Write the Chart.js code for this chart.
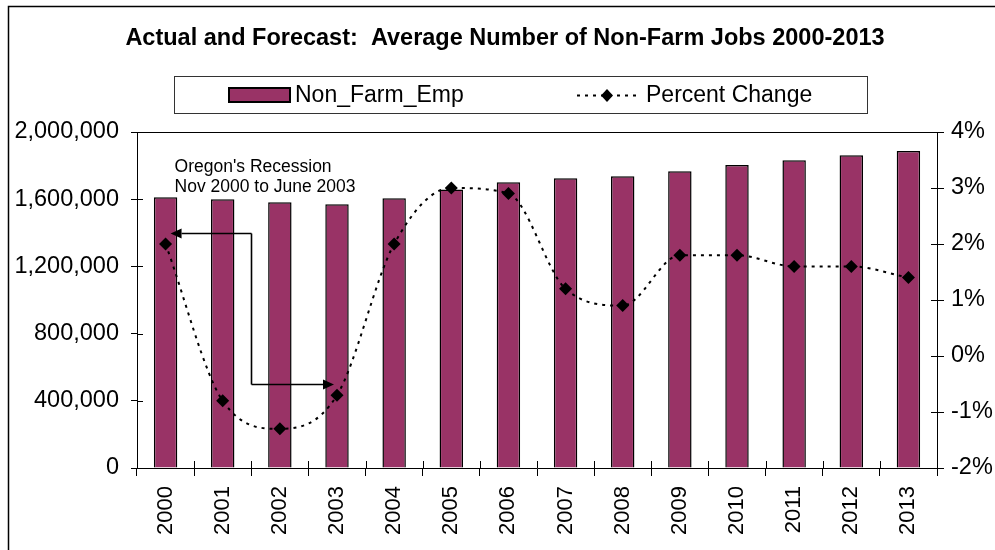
<!DOCTYPE html>
<html>
<head>
<meta charset="utf-8">
<script src="https://cdn.jsdelivr.net/npm/chart.js@4.4.1/dist/chart.umd.min.js"></script>
<style>
  html, body { margin: 0; padding: 0; background: #fff; }
  #wrap { width: 995px; height: 550px; }
</style>
</head>
<body>
<div id="wrap"><canvas id="jobsChart" width="995" height="550"></canvas></div>
<script>
// Данные графика
const years = ["2000", "2001", "2002", "2003", "2004", "2005", "2006", "2007", "2008", "2009", "2010", "2011", "2012", "2013"];
const nonFarmEmp = [1612000, 1600000, 1582000, 1570000, 1606000, 1658000, 1701000, 1724000, 1737000, 1767000, 1803000, 1832000, 1862000, 1887000];
const percentChange = [2.0, -0.8, -1.3, -0.7, 2.0, 3.0, 2.9, 1.2, 0.9, 1.8, 1.8, 1.6, 1.6, 1.4];
const leftTicks = [0, 400000, 800000, 1200000, 1600000, 2000000];
const rightTicks = [-2, -1, 0, 1, 2, 3, 4];

const chartTitle = "Actual and Forecast:  Average Number of Non-Farm Jobs 2000-2013";
const noteLines = ["Oregon's Recession", "Nov 2000 to June 2003"];

const FONT = "Arial, 'Liberation Sans', sans-serif";
const BAR_COLOR = "#993366";

// Стрелка с заполненным наконечником
function arrow(ctx, x1, y1, x2, y2) {
  const ang = Math.atan2(y2 - y1, x2 - x1);
  const len = 11, half = 5;
  ctx.beginPath();
  ctx.moveTo(x1, y1);
  ctx.lineTo(x2 - Math.cos(ang) * len, y2 - Math.sin(ang) * len);
  ctx.stroke();
  ctx.beginPath();
  ctx.moveTo(x2, y2);
  ctx.lineTo(x2 - Math.cos(ang) * len - Math.sin(ang) * half, y2 - Math.sin(ang) * len + Math.cos(ang) * half);
  ctx.lineTo(x2 - Math.cos(ang) * len + Math.sin(ang) * half, y2 - Math.sin(ang) * len - Math.cos(ang) * half);
  ctx.closePath();
  ctx.fill();
}

// Рамка, заголовок, легенда, внутренние засечки и аннотация рецессии
const decorations = {
  id: "decorations",
  afterDatasetsDraw(chart) {
    const { ctx, chartArea: a, scales } = chart;
    const x = scales.x, y = scales.y, y1 = scales.y1;
    ctx.save();
    ctx.strokeStyle = "#000";
    ctx.fillStyle = "#000";

    // внешняя рамка
    ctx.lineWidth = 1.5;
    ctx.strokeRect(8.5, 6.5, 1000, 600);

    // верхняя граница области построения
    ctx.lineWidth = 1;
    ctx.beginPath();
    ctx.moveTo(a.left, a.top + 0.5);
    ctx.lineTo(a.right, a.top + 0.5);
    ctx.stroke();

    // засечки внутрь
    ctx.beginPath();
    y.ticks.forEach((t, i) => {
      const py = Math.round(y.getPixelForTick(i)) + 0.5;
      ctx.moveTo(a.left, py); ctx.lineTo(a.left + 6, py);
    });
    y1.ticks.forEach((t, i) => {
      const py = Math.round(y1.getPixelForTick(i)) + 0.5;
      ctx.moveTo(a.right - 6, py); ctx.lineTo(a.right, py);
    });
    for (let i = 1; i < years.length; i++) {
      const px = Math.round((x.getPixelForValue(i - 1) + x.getPixelForValue(i)) / 2) + 0.5;
      ctx.moveTo(px, a.bottom); ctx.lineTo(px, a.bottom - 7);
    }
    ctx.stroke();

    // заголовок
    ctx.font = "bold 23.5px " + FONT;
    ctx.textAlign = "center";
    ctx.textBaseline = "alphabetic";
    ctx.fillText(chartTitle, 505, 45);

    // легенда
    const barDs = chart.data.datasets.find((d) => d.type === "bar");
    const lineDs = chart.data.datasets.find((d) => d.type === "line");
    ctx.lineWidth = 1;
    ctx.strokeStyle = "#333";
    ctx.strokeRect(174.5, 76.5, 693, 37);
    ctx.strokeStyle = "#000";
    ctx.fillStyle = BAR_COLOR;
    ctx.fillRect(229, 88, 61, 14);
    ctx.lineWidth = 2;
    ctx.strokeRect(229, 88, 61, 14);
    ctx.fillStyle = "#000";
    ctx.font = "23px " + FONT;
    ctx.textAlign = "left";
    ctx.textBaseline = "middle";
    ctx.fillText(barDs.label, 295, 96);
    ctx.setLineDash([3, 5]);
    ctx.beginPath();
    ctx.moveTo(577, 95.5); ctx.lineTo(640, 95.5);
    ctx.stroke();
    ctx.setLineDash([]);
    ctx.beginPath();
    ctx.moveTo(607, 89); ctx.lineTo(613, 95.5); ctx.lineTo(607, 102); ctx.lineTo(601, 95.5);
    ctx.closePath();
    ctx.fill();
    ctx.fillText(lineDs.label, 646, 96);

    // аннотация рецессии
    ctx.font = "17.5px " + FONT;
    ctx.textBaseline = "alphabetic";
    const tx = x.getPixelForValue(0) + 9;
    const ty = y1.getPixelForValue(3.28);
    noteLines.forEach((s, i) => ctx.fillText(s, tx, ty + i * 20));

    const midX = Math.round((x.getPixelForValue(1) + x.getPixelForValue(2)) / 2) + 0.5;
    const upY = Math.round(y1.getPixelForValue(2.2)) + 0.5;
    const lowY = Math.round(y1.getPixelForValue(-0.5)) + 0.5;
    ctx.lineWidth = 1.6;
    ctx.beginPath();
    ctx.moveTo(midX, upY); ctx.lineTo(midX, lowY);
    ctx.stroke();
    arrow(ctx, midX, upY, x.getPixelForValue(0) + 5, upY);
    arrow(ctx, midX, lowY, x.getPixelForValue(3) - 3, lowY);

    ctx.restore();
  },
};

new Chart(document.getElementById("jobsChart"), {
  data: {
    labels: years,
    datasets: [
      {
        type: "line",
        label: "Percent Change",
        data: percentChange,
        yAxisID: "y1",
        borderColor: "#000",
        borderWidth: 2,
        borderDash: [3, 5],
        cubicInterpolationMode: "monotone",
        pointStyle: "rectRot",
        pointRadius: 6.5,
        pointBackgroundColor: "#000",
        pointBorderColor: "#000",
        pointBorderWidth: 0,
        order: 0,
      },
      {
        type: "bar",
        label: "Non_Farm_Emp",
        data: nonFarmEmp,
        yAxisID: "y",
        backgroundColor: BAR_COLOR,
        borderColor: "#000",
        borderWidth: 1.5,
        barPercentage: 0.41,
        categoryPercentage: 1,
        order: 1,
      },
    ],
  },
  options: {
    responsive: false,
    animation: false,
    devicePixelRatio: 1,
    layout: { padding: { top: 132, left: 0, right: 0, bottom: 0 } },
    plugins: {
      legend: { display: false },
      title: { display: false },
      tooltip: { enabled: false },
    },
    events: [],
    scales: {
      x: {
        type: "category",
        offset: true,
        border: { color: "#000", width: 1 },
        grid: { drawOnChartArea: false, color: "#000", tickLength: 8, offset: true },
        ticks: {
          color: "#000",
          font: { size: 22, family: FONT },
          minRotation: 90,
          maxRotation: 90,
          padding: 10,
        },
        afterFit: (s) => { s.height = 82; },
      },
      y: {
        position: "left",
        min: 0,
        max: 2000000,
        afterBuildTicks: (s) => { s.ticks = leftTicks.map((v) => ({ value: v })); },
        border: { color: "#000", width: 1 },
        grid: { drawOnChartArea: false, color: "#000", tickLength: 6 },
        ticks: {
          color: "#000",
          font: { size: 23.5, family: FONT },
          padding: 12,
          callback: (v) => v.toLocaleString("en-US"),
        },
        afterFit: (s) => { s.width = 137; },
      },
      y1: {
        position: "right",
        min: -2,
        max: 4,
        afterBuildTicks: (s) => { s.ticks = rightTicks.map((v) => ({ value: v })); },
        border: { color: "#000", width: 1 },
        grid: { drawOnChartArea: false, color: "#000", tickLength: 7 },
        ticks: {
          color: "#000",
          font: { size: 23.5, family: FONT },
          padding: 7,
          callback: (v) => v + "%",
        },
        afterFit: (s) => { s.width = 58; },
      },
    },
  },
  plugins: [decorations],
});
</script>
</body>
</html>
